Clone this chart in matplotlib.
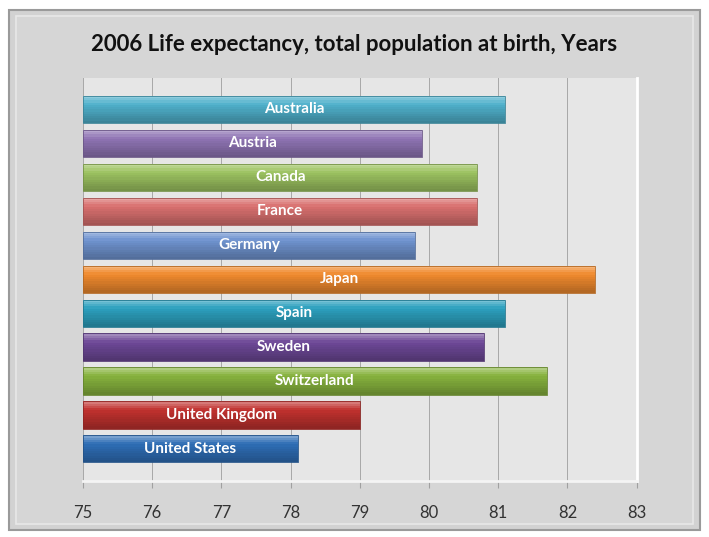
import matplotlib.pyplot as plt
import matplotlib.colors as mcolors
from matplotlib.patches import Rectangle
import numpy as np

countries = ['Australia', 'Austria', 'Canada', 'France', 'Germany', 'Japan',
             'Spain', 'Sweden', 'Switzerland', 'United Kingdom', 'United States']
life_exp = [81.1, 79.9, 80.7, 80.7, 79.8, 82.4, 81.1, 80.8, 81.7, 79.0, 78.1]
bar_colors = ['#4fb0cb', '#8f74b4', '#9cc260', '#d9706f', '#6f93cf', '#f08a2e',
              '#2ca0be', '#6d4897', '#86b23d', '#c0312e', '#2e6db5']
ticks = [75, 76, 77, 78, 79, 80, 81, 82, 83]

plt.rcParams['font.family'] = ['Lato', 'DejaVu Sans']

fig = plt.figure(figsize=(7.09, 5.37), dpi=100)
fig.patch.set_facecolor('white')

# outer gray frame on a background axes
bg = fig.add_axes([0, 0, 1, 1], zorder=-1)
bg.set_xlim(0, 1)
bg.set_ylim(0, 1)
bg.axis('off')
bg.add_patch(Rectangle((0.012, 0.013), 0.976, 0.968,
                       facecolor='#d2d2d2', edgecolor='#9a9a9a', linewidth=1.5))
bg.add_patch(Rectangle((0.022, 0.025), 0.956, 0.945,
                       facecolor='#d6d6d6', edgecolor='#e8e8e8', linewidth=1.2))
bg.text(0.5, 0.918, '2006 Life expectancy, total population at birth, Years',
        ha='center', va='center', fontsize=16, fontweight='bold', color='#111111')

ax = fig.add_axes([0.117, 0.104, 0.781, 0.751])
ax.set_facecolor('#e6e6e6')

y = np.arange(len(countries))
h = 0.8
nb = 12
for yi, v, c in zip(y, life_exp, bar_colors):
    base = np.array(mcolors.to_rgb(c))
    # stepped vertical gradient: light on top, darker at bottom
    for k in range(nb):
        t = k / (nb - 1)
        if t < 0.3:
            col = base + (1 - base) * (0.35 * (0.3 - t) / 0.3)
        else:
            col = base * (1 - 0.25 * (t - 0.3) / 0.7)
        ax.barh(yi - h / 2 + (k + 0.5) * h / nb, v - 75, left=75, height=h / nb,
                color=np.clip(col, 0, 1), linewidth=0, zorder=3)
    ax.barh(yi, v - 75, left=75, height=h, facecolor='none',
            edgecolor=base * 0.75, linewidth=0.6, zorder=4)
    ax.text(75 + (v - 75) / 2, yi, countries[yi], ha='center', va='center',
            color='white', fontsize=11, fontweight='bold', zorder=5)

ax.set_xlim(75, 83)
ax.set_ylim(10.95, -0.93)
ax.set_xticks(ticks)
ax.set_xticklabels([str(t) for t in ticks], fontsize=12, color='#333333')
ax.set_yticks([])
ax.grid(axis='x', color='#a8a8a8', linewidth=0.7, zorder=0)
ax.set_axisbelow(True)
ax.tick_params(axis='x', length=5, color='#a0a0a0', pad=12)
for s in ['top', 'left']:
    ax.spines[s].set_visible(False)
ax.spines['right'].set_color('white')
ax.spines['right'].set_linewidth(2)
ax.spines['bottom'].set_color('#f4f4f4')
ax.spines['bottom'].set_linewidth(2)

fig.savefig('out.png', dpi=100, facecolor=fig.get_facecolor())
